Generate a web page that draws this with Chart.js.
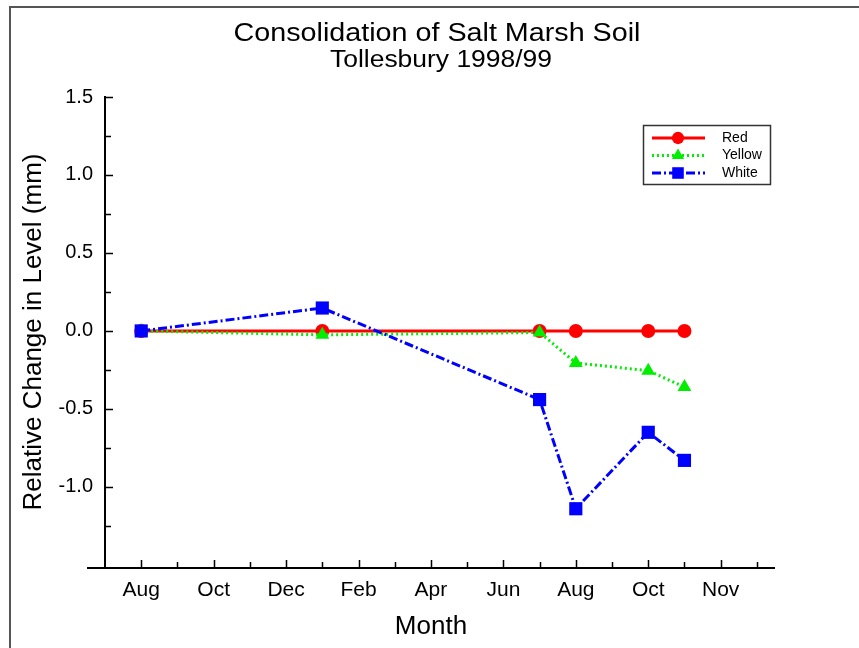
<!DOCTYPE html>
<html>
<head>
<meta charset="utf-8">
<script src="https://cdn.jsdelivr.net/npm/chart.js@4"></script>
<style>
  body { margin: 0; background: #fff; }
  #wrap { position: relative; width: 859px; height: 648px; overflow: hidden; }
  #frame { position: absolute; left: 9px; top: 6px; width: 900px; height: 700px;
           border-top: 2px solid #555; border-left: 2px solid #555; }
  canvas { position: absolute; left: 0; top: 0; }
</style>
</head>
<body>
<div id="wrap">
  <div id="frame"></div>
  <canvas id="chart" width="859" height="648"></canvas>
</div>
<script>
// months counted from Aug 1998
const months = [0, 5, 11, 12, 14, 15];
const redLevel = [0, 0, 0, 0, 0, 0];
const yellowLevel = [0, -0.025, -0.01, -0.205, -0.255, -0.36];
const whiteLevel = [0, 0.147, -0.44, -1.14, -0.65, -0.83];

const monthTicks = [0, 2, 4, 6, 8, 10, 12, 14, 16];
const monthLabels = ["Aug", "Oct", "Dec", "Feb", "Apr", "Jun", "Aug", "Oct", "Nov"];
const levelTicks = [1.5, 1.0, 0.5, 0.0, -0.5, -1.0];

const fontFamily = "'Liberation Sans', Arial, sans-serif";
Chart.defaults.font.family = fontFamily;
Chart.defaults.color = "#000";

function points(ys) {
  return months.map((m, i) => ({ x: m, y: ys[i] }));
}

const seriesStyle = [
  { label: "Red", color: "#ff0000", dash: [], style: "circle", radius: 7 },
  { label: "Yellow", color: "#00ee00", dash: [2, 3], style: "triangle", radius: 8 },
  { label: "White", color: "#0000ff", dash: [9, 3, 2, 3], style: "rect", radius: 9.3 }
];

function drawMarker(ctx, style, x, y, r, color) {
  ctx.save();
  ctx.fillStyle = color;
  ctx.beginPath();
  if (style === "circle") {
    ctx.arc(x, y, r, 0, Math.PI * 2);
  } else if (style === "triangle") {
    ctx.moveTo(x, y - r);
    ctx.lineTo(x + r * 0.866, y + r * 0.5);
    ctx.lineTo(x - r * 0.866, y + r * 0.5);
    ctx.closePath();
  } else {
    const s = r * Math.SQRT1_2;
    ctx.rect(x - s, y - s, 2 * s, 2 * s);
  }
  ctx.fill();
  ctx.restore();
}

// text squeezed/stretched to a width, centred on x
function fitText(ctx, text, x, y, width) {
  const w = ctx.measureText(text).width;
  ctx.save();
  ctx.translate(x, y);
  ctx.scale(width / w, 1);
  ctx.fillText(text, 0, 0);
  ctx.restore();
}

// titles, axis lines with inside ticks, legend box
const decorations = {
  id: "decorations",
  afterDraw(chart) {
    const ctx = chart.ctx;
    const xs = chart.scales.x, ys = chart.scales.y;
    const axisY = ys.getPixelForValue(ys.min);
    const axisX = xs.getPixelForValue(xs.min);
    ctx.save();
    ctx.fillStyle = "#000";
    ctx.textAlign = "center";
    ctx.textBaseline = "alphabetic";
    ctx.font = "26px " + fontFamily;
    fitText(ctx, "Consolidation of Salt Marsh Soil", 437, 41, 407);
    ctx.font = "23px " + fontFamily;
    fitText(ctx, "Tollesbury 1998/99", 441, 67, 222);
    ctx.textBaseline = "middle";
    ctx.font = "26px " + fontFamily;
    ctx.fillText("Month", 431, 627);
    ctx.save();
    ctx.translate(34, 332);
    ctx.rotate(-Math.PI / 2);
    ctx.fillText("Relative Change in Level (mm)", 0, 0);
    ctx.restore();

    ctx.strokeStyle = "#000";
    ctx.lineWidth = 2;
    ctx.beginPath();
    ctx.moveTo(axisX - 18, axisY);
    ctx.lineTo(xs.right, axisY);
    ctx.moveTo(axisX, axisY);
    ctx.lineTo(axisX, ys.getPixelForValue(ys.max) - 1);
    ctx.stroke();

    ctx.lineWidth = 1.5;
    ctx.beginPath();
    for (let m = 0; m <= 17; m++) {
      const px = Math.round(xs.getPixelForValue(m)) + 0.5;
      const len = m % 2 === 0 ? 8 : 6;
      ctx.moveTo(px, axisY);
      ctx.lineTo(px, axisY - len);
    }
    for (let v = 1.5; v > -1.4; v -= 0.25) {
      const py = Math.round(ys.getPixelForValue(v)) + 0.5;
      const major = Math.abs(v * 2 - Math.round(v * 2)) < 1e-6;
      ctx.moveTo(axisX, py);
      ctx.lineTo(axisX + (major ? 8 : 6), py);
    }
    ctx.stroke();

    // legend
    ctx.lineWidth = 1.5;
    ctx.strokeStyle = "#333";
    ctx.strokeRect(643.5, 125.5, 127, 59);
    ctx.font = "14px " + fontFamily;
    ctx.textAlign = "left";
    seriesStyle.forEach((s, i) => {
      const ly = 138 + i * 17.5;
      ctx.save();
      ctx.strokeStyle = s.color;
      ctx.lineWidth = 3;
      ctx.setLineDash(s.dash);
      ctx.beginPath();
      ctx.moveTo(652, ly);
      ctx.lineTo(705, ly);
      ctx.stroke();
      ctx.restore();
      drawMarker(ctx, s.style, 678, ly, s.radius * 0.88, s.color);
      ctx.fillStyle = "#000";
      ctx.fillText(s.label, 722, ly);
    });
    ctx.restore();
  }
};

const seriesData = [redLevel, yellowLevel, whiteLevel];

new Chart(document.getElementById("chart"), {
  type: "line",
  data: {
    datasets: seriesStyle.map((s, i) => ({
      label: s.label,
      data: points(seriesData[i]),
      borderColor: s.color,
      backgroundColor: s.color,
      borderWidth: 3,
      borderDash: s.dash,
      pointStyle: s.style,
      pointRadius: s.radius,
      pointBorderWidth: 0,
      tension: 0,
      order: 3 - i,
      clip: false
    }))
  },
  options: {
    responsive: false,
    animation: false,
    layout: { padding: { left: 0, top: 97, right: 84, bottom: 0 } },
    plugins: { legend: { display: false }, tooltip: { enabled: false } },
    scales: {
      x: {
        type: "linear",
        min: -1,
        max: 17.5,
        afterFit: s => { s.height = 80; },
        afterBuildTicks: s => { s.ticks = monthTicks.map(v => ({ value: v })); },
        grid: { display: false },
        border: { display: false },
        ticks: {
          font: { size: 21 },
          padding: 2,
          maxRotation: 0,
          autoSkip: false,
          callback: v => monthLabels[monthTicks.indexOf(v)]
        }
      },
      y: {
        min: -1.52,
        max: 1.5,
        afterFit: s => { s.width = 105; },
        afterBuildTicks: s => { s.ticks = levelTicks.map(v => ({ value: v })); },
        grid: { display: false, drawTicks: false },
        border: { display: false },
        ticks: {
          font: { size: 20 },
          padding: 12,
          callback: v => v.toFixed(1)
        }
      }
    }
  },
  plugins: [decorations]
});
</script>
</body>
</html>
